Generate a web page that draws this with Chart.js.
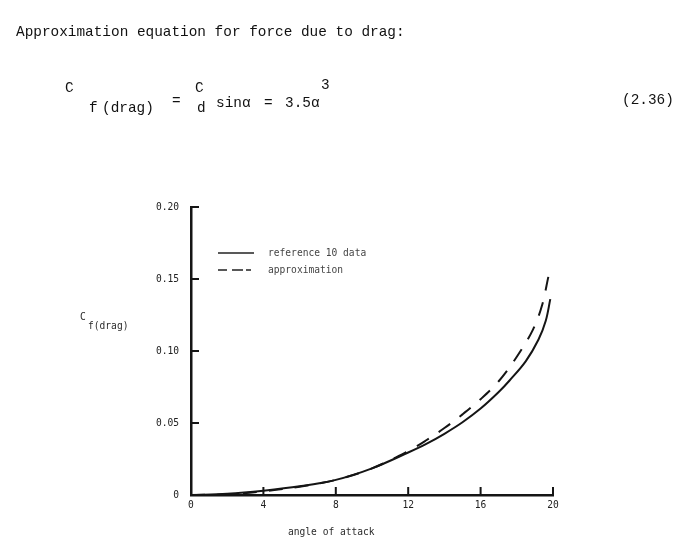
<!DOCTYPE html>
<html>
<head>
<meta charset="utf-8">
<script src="https://cdn.jsdelivr.net/npm/chart.js@4"></script>
<style>
  body { margin: 0; background: #fff; }
  #page { position: relative; width: 675px; height: 554px; overflow: hidden; font-family: "Liberation Mono", monospace; color: #111; }
  #page canvas { position: absolute; left: 0; top: 0; }
  .t { position: absolute; white-space: pre; line-height: 1; }
  .big { font-size: 14.4px; }
  .small { font-family: "DejaVu Sans Mono", monospace; font-size: 9.6px; color: #2a2a2a; }
  .leg { color: #444; }
</style>
</head>
<body>
<div id="page">
  <canvas id="dragChart" width="675" height="554"></canvas>

  <div class="t big" style="left:16px; top:25px;">Approximation equation for force due to drag:</div>

  <div class="t big" style="left:65px; top:81px;">C</div>
  <div class="t big" style="left:89px; top:101px;">f</div>
  <div class="t big" style="left:102px; top:101px;">(drag)</div>
  <div class="t big" style="left:172px; top:94px;">=</div>
  <div class="t big" style="left:195px; top:81px;">C</div>
  <div class="t big" style="left:197px; top:101px;">d</div>
  <div class="t big" style="left:216px; top:96px;">sinα</div>
  <div class="t big" style="left:264px; top:96px;">=</div>
  <div class="t big" style="left:285px; top:96px;">3.5α</div>
  <div class="t big" style="left:321px; top:78px;">3</div>
  <div class="t big" style="left:622px; top:93px;">(2.36)</div>

  <div class="t small" style="left:80px; top:312px;">C</div>
  <div class="t small" style="left:88px; top:321px;">f(drag)</div>
  <div class="t small" style="left:288px; top:527px;">angle of attack</div>

  <svg class="t" style="left:218px; top:245px;" width="40" height="32">
    <line x1="0" y1="8" x2="36" y2="8" stroke="#222" stroke-width="1.6"/>
    <line x1="0" y1="25" x2="36" y2="25" stroke="#222" stroke-width="1.6" stroke-dasharray="9 5 11 3 5 10"/>
  </svg>
  <div class="t small leg" style="left:268px; top:248px;">reference 10 data</div>
  <div class="t small leg" style="left:268px; top:265px;">approximation</div>
</div>

<script>
// values (angle in degrees, coefficient)
const refAngle = [0, 2, 4, 6, 8, 10, 12, 13, 14, 15, 16, 17, 17.6, 18.5, 19.2, 19.6, 19.85];
const refDrag = [0, 0.0009, 0.003, 0.006, 0.0105, 0.0185, 0.0295, 0.0355, 0.0425, 0.0505, 0.060, 0.0715, 0.0795, 0.093, 0.108, 0.121, 0.136];

const approxAngle = [0, 2, 4, 6, 8, 10, 12, 13, 14, 15, 16, 17, 18, 18.9, 19.4, 19.75];
const approxDrag = [0, 0.0005, 0.0025, 0.0058, 0.0105, 0.0185, 0.0305, 0.038, 0.0465, 0.056, 0.0665, 0.079, 0.096, 0.115, 0.132, 0.152];

const xTicks = [0, 4, 8, 12, 16, 20];
const yTicks = [0, 0.05, 0.10, 0.15, 0.20];

const ink = '#151515';
const tickFont = { family: 'DejaVu Sans Mono', size: 9.6 };

// tick marks in the original point into the plot
const inwardTicks = {
    id: 'inwardTicks',
    afterDatasetsDraw(chart) {
        const { ctx, chartArea, scales: { x, y } } = chart;
        ctx.save();
        ctx.strokeStyle = ink;
        ctx.lineWidth = 2;
        ctx.beginPath();
        yTicks.forEach(v => {
            if (v === 0) return;
            const py = y.getPixelForValue(v);
            ctx.moveTo(chartArea.left, py);
            ctx.lineTo(chartArea.left + 8, py);
        });
        xTicks.forEach(v => {
            if (v === 0) return;
            const px = x.getPixelForValue(v);
            ctx.moveTo(px, chartArea.bottom);
            ctx.lineTo(px, chartArea.bottom - 8);
        });
        ctx.stroke();
        ctx.restore();
    }
};

new Chart(document.getElementById('dragChart'), {
    type: 'scatter',
    data: {
        datasets: [
            {
                label: 'reference 10 data',
                data: refAngle.map((a, i) => ({ x: a, y: refDrag[i] })),
                showLine: true,
                borderColor: ink,
                borderWidth: 2,
                pointRadius: 0,
                tension: 0.35
            },
            {
                label: 'approximation',
                data: approxAngle.map((a, i) => ({ x: a, y: approxDrag[i] })),
                showLine: true,
                borderColor: ink,
                borderWidth: 2,
                borderDash: [14, 12],
                pointRadius: 0,
                tension: 0.35
            }
        ]
    },
    options: {
        responsive: false,
        animation: false,
        layout: { padding: { left: 151, right: 122, top: 207, bottom: 29 } },
        plugins: { legend: { display: false }, tooltip: { enabled: false } },
        scales: {
            x: {
                type: 'linear',
                min: 0,
                max: 20,
                afterFit: s => { s.height = 30; },
                afterBuildTicks: s => { s.ticks = xTicks.map(v => ({ value: v })); },
                grid: { drawOnChartArea: false, drawTicks: false },
                border: { color: ink, width: 2.5 },
                ticks: { padding: 5, font: tickFont, color: '#222', maxRotation: 0, autoSkip: false }
            },
            y: {
                type: 'linear',
                min: 0,
                max: 0.2,
                afterFit: s => { s.width = 40; },
                afterBuildTicks: s => { s.ticks = yTicks.map(v => ({ value: v })); },
                grid: { drawOnChartArea: false, drawTicks: false },
                border: { color: ink, width: 2.5 },
                ticks: {
                    padding: 12,
                    font: tickFont,
                    color: '#222',
                    callback: v => v === 0 ? '0' : v.toFixed(2)
                }
            }
        }
    },
    plugins: [inwardTicks]
});
</script>
</body>
</html>
